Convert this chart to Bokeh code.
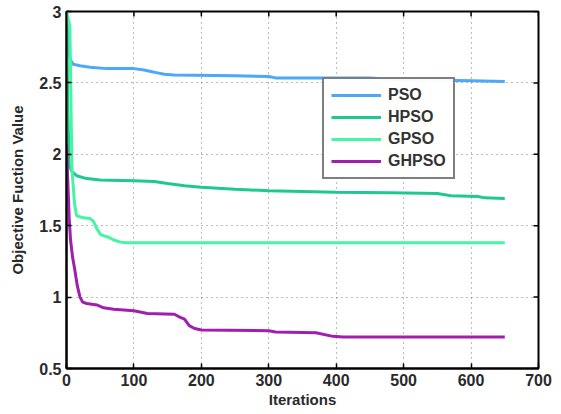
import math
from bokeh.plotting import figure
from bokeh.models import Range1d, FixedTicker, Legend, LegendItem
from bokeh.embed import file_html
from bokeh.resources import INLINE

# Data
pso_x = [0, 3, 6, 10, 20, 35, 60, 100, 115, 125, 135, 145, 160, 250, 300, 310, 450, 480, 600, 650]
pso_y = [3.0, 2.72, 2.66, 2.63, 2.62, 2.61, 2.60, 2.60, 2.59, 2.58, 2.57, 2.56, 2.555, 2.55, 2.545, 2.535, 2.535, 2.525, 2.515, 2.51]

hpso_x = [0, 2, 4, 8, 15, 30, 50, 100, 130, 150, 175, 200, 250, 300, 400, 480, 550, 570, 610, 620, 650]
hpso_y = [3.0, 2.3, 1.92, 1.88, 1.85, 1.83, 1.82, 1.815, 1.81, 1.795, 1.78, 1.77, 1.755, 1.745, 1.735, 1.73, 1.725, 1.71, 1.705, 1.695, 1.69]

gpso_x = [0, 5, 8, 12, 15, 25, 35, 40, 45, 50, 55, 62, 70, 80, 90, 300, 650]
gpso_y = [3.0, 2.9, 1.9, 1.65, 1.57, 1.555, 1.55, 1.53, 1.48, 1.44, 1.43, 1.42, 1.40, 1.385, 1.38, 1.38, 1.38]

ghpso_x = [0, 2, 4, 6, 9, 12, 16, 20, 24, 30, 45, 55, 70, 100, 120, 160, 168, 175, 182, 190, 200, 300, 310, 370, 395, 410, 650]
ghpso_y = [2.07, 1.8, 1.55, 1.4, 1.28, 1.2, 1.08, 1.0, 0.965, 0.955, 0.945, 0.925, 0.915, 0.905, 0.885, 0.88, 0.86, 0.845, 0.80, 0.78, 0.77, 0.765, 0.755, 0.75, 0.725, 0.72, 0.72]

x_ticks = [0, 100, 200, 300, 400, 500, 600, 700]
y_ticks = [0.5, 1, 1.5, 2, 2.5, 3]
y_labels = {0.5: "0.5", 1: "1", 1.5: "1.5", 2: "2", 2.5: "2.5", 3: "3"}

series = [
    ("PSO", pso_x, pso_y, "#4ea8f8"),
    ("HPSO", hpso_x, hpso_y, "#1fc890"),
    ("GPSO", gpso_x, gpso_y, "#44f5a2"),
    ("GHPSO", ghpso_x, ghpso_y, "#a01fae"),
]

x_min, x_max = x_ticks[0], x_ticks[-1]
y_min, y_max = y_ticks[0], y_ticks[-1]

p = figure(width=553, height=410, output_backend="svg", toolbar_location=None,
           x_range=Range1d(x_min, x_max), y_range=Range1d(y_min, y_max),
           min_border_left=66, min_border_top=11, min_border_right=15, min_border_bottom=39)

p.outline_line_color = "black"
p.outline_line_width = 2
p.background_fill_color = "white"

font = "Liberation Sans"
for ax in (p.xaxis[0], p.yaxis[0]):
    ax.major_tick_in = 5
    ax.major_tick_out = 0
    ax.minor_tick_line_color = None
    ax.axis_line_color = "black"
    ax.axis_line_width = 2
    ax.major_tick_line_width = 1.5
    ax.major_label_text_font = font
    ax.major_label_text_font_size = "16px"
    ax.major_label_text_font_style = "bold"
    ax.major_label_text_color = "#2a2a2a"
    ax.axis_label_text_font = font
    ax.axis_label_text_font_size = "15px"
    ax.axis_label_text_font_style = "bold"
    ax.axis_label_text_color = "#2a2a2a"

p.xaxis[0].ticker = FixedTicker(ticks=x_ticks)
p.yaxis[0].ticker = FixedTicker(ticks=y_ticks)
p.yaxis[0].major_label_overrides = y_labels
p.xaxis[0].axis_label = "Iterations"
p.yaxis[0].axis_label = "Objective Fuction Value"
p.xaxis[0].major_label_standoff = 5
p.xaxis[0].axis_label_standoff = 2
p.yaxis[0].major_label_standoff = 5
p.yaxis[0].axis_label_standoff = 10

# inward ticks on the top and right frame edges (half of each dash is clipped by the frame)
p.scatter(x_ticks, [y_max] * len(x_ticks), marker="dash", angle=math.pi / 2, size=10,
          line_color="black", line_width=1.5)
p.scatter([x_max] * len(y_ticks), y_ticks, marker="dash", size=10,
          line_color="black", line_width=1.5)

p.xgrid.grid_line_color = "#555555"
p.ygrid.grid_line_color = "#555555"
p.xgrid.grid_line_dash = "1 4"
p.ygrid.grid_line_dash = "1 4"
p.xgrid.grid_line_alpha = 0.8
p.ygrid.grid_line_alpha = 0.8

items = []
for name, xs, ys, col in series:
    r = p.line(xs, ys, line_color=col, line_width=3)
    items.append(LegendItem(label=name, renderers=[r]))

legend = Legend(items=items, location=(256, 189))
legend.border_line_color = "black"
legend.border_line_width = 2
legend.label_text_font = font
legend.label_text_font_size = "16px"
legend.label_text_font_style = "bold"
legend.label_text_color = "#333333"
legend.glyph_width = 50
legend.glyph_height = 18
legend.spacing = 4
legend.padding = 7
legend.margin = 0
legend.label_standoff = 7
p.add_layout(legend, "center")

open("out.html", "w").write(file_html(p, INLINE))
